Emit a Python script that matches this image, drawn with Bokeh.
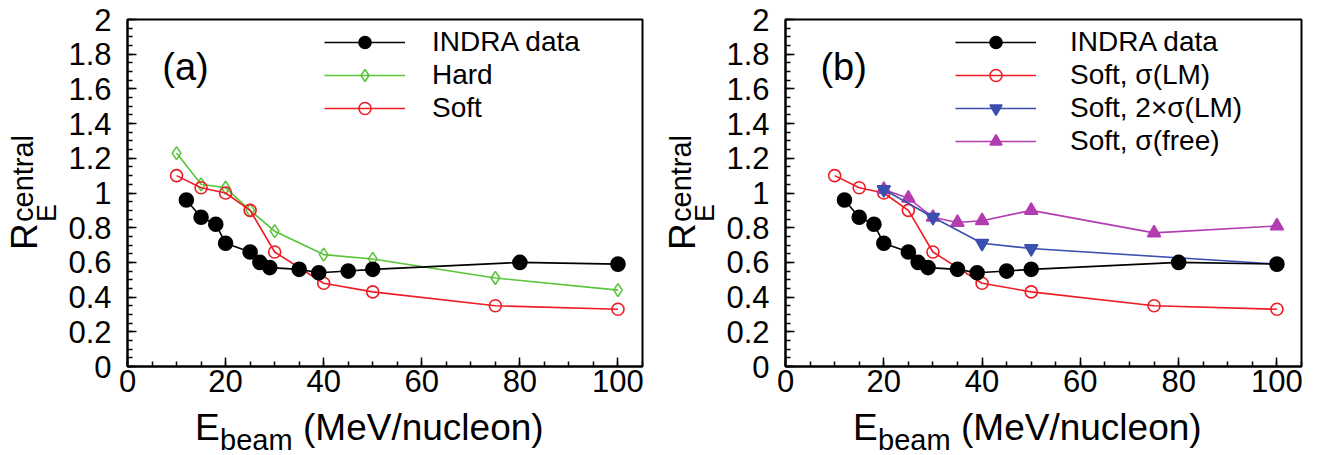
from bokeh.plotting import figure
from bokeh.layouts import row, column
from bokeh.models import Range1d, FixedTicker, Label, Legend, LegendItem, Div
from bokeh.embed import file_html
from bokeh.resources import INLINE

# ---------------- data ----------------
indra_e = [12, 15, 18, 20, 25, 27, 29, 35, 39, 45, 50, 80, 100]
indra_r = [0.96, 0.86, 0.82, 0.71, 0.66, 0.60, 0.57, 0.56, 0.54, 0.55, 0.56, 0.60, 0.59]

hard_e = [10, 15, 20, 25, 30, 40, 50, 75, 100]
hard_r = [1.23, 1.05, 1.03, 0.90, 0.78, 0.645, 0.62, 0.51, 0.44]

soft_e = [10, 15, 20, 25, 30, 40, 50, 75, 100]
soft_r = [1.10, 1.03, 1.00, 0.90, 0.66, 0.48, 0.43, 0.35, 0.33]

soft2_e = [20, 30, 40, 50, 100]
soft2_r = [1.02, 0.86, 0.71, 0.68, 0.59]

free_e = [20, 25, 30, 35, 40, 50, 75, 100]
free_r = [1.02, 0.97, 0.86, 0.83, 0.84, 0.90, 0.77, 0.81]

x_ticks = [0, 20, 40, 60, 80, 100]
x_tick_labels = ["0", "20", "40", "60", "80", "100"]
y_ticks = [0, 0.2, 0.4, 0.6, 0.8, 1, 1.2, 1.4, 1.6, 1.8, 2]
y_tick_labels = ["0", "0.2", "0.4", "0.6", "0.8", "1", "1.2", "1.4", "1.6", "1.8", "2"]
x_minor = [5 * i for i in range(22)]
y_minor = [0.05 * i for i in range(41)]

FONT = "Liberation Sans"
BLACK = "#000000"
GREEN = "#5ac43a"
RED = "#ee1c25"
BLUE = "#3b4fae"
MAGENTA = "#b23cb0"

FIG_H = 406
YDIV_W = 60


def make_panel(width, bl, br, panel_text):
    p = figure(width=width, height=FIG_H, x_range=Range1d(0, 105), y_range=Range1d(0, 2),
               output_backend="svg", toolbar_location=None,
               min_border_left=bl, min_border_right=br, min_border_top=19, min_border_bottom=40)
    p.grid.visible = False
    p.outline_line_color = "black"
    p.outline_line_width = 2
    p.background_fill_color = "white"
    p.border_fill_color = "white"
    for ax in (p.xaxis[0], p.yaxis[0]):
        ax.axis_line_width = 2
        ax.axis_line_color = "black"
        ax.major_tick_in = 9
        ax.major_tick_out = 0
        ax.minor_tick_in = 5
        ax.minor_tick_out = 0
        ax.major_tick_line_width = 1.5
        ax.minor_tick_line_width = 1.5
        ax.major_tick_line_color = "black"
        ax.minor_tick_line_color = "black"
        ax.major_label_text_font = FONT
        ax.major_label_text_font_size = "31px"
        ax.major_label_text_color = "black"
    p.xaxis.ticker = FixedTicker(ticks=x_ticks, minor_ticks=x_minor)
    p.yaxis.ticker = FixedTicker(ticks=y_ticks, minor_ticks=y_minor)
    p.xaxis.major_label_overrides = dict(zip(x_ticks, x_tick_labels))
    p.yaxis.major_label_overrides = dict(zip(y_ticks, y_tick_labels))
    p.xaxis.major_label_standoff = 3
    p.yaxis.major_label_standoff = 16
    p.add_layout(Label(x=7.1, y=1.726, text=panel_text, text_font=FONT, text_font_size="38px",
                       text_color="black", text_baseline="alphabetic", text_align="left"))
    return p


def span(txt, size, left, top, rotate=False):
    tr = "transform:rotate(-90deg);transform-origin:0 0;" if rotate else ""
    return (f'<span style="position:absolute;left:{left}px;top:{top}px;font-family:\'{FONT}\';'
            f'font-size:{size}px;line-height:1;white-space:nowrap;color:#000;{tr}">{txt}</span>')


def y_label_div():
    html = ('<div style="position:relative;width:%dpx;height:%dpx;">' % (YDIV_W, FIG_H)
            + span("R", 37, 6, 250, True)
            + span("E", 27, 34.1, 222, True)
            + span("central", 29, 9, 222, True)
            + '</div>')
    return Div(text=html, width=YDIV_W, height=FIG_H, margin=0)


def x_label_div(width):
    html = ('<div style="position:relative;width:%dpx;height:46px;">' % width
            + span("E", 37, 195, 2.7)
            + span("beam", 29, 220, 19.5)
            + span("(MeV/nucleon)", 37, 303, 2.7)
            + '</div>')
    return Div(text=html, width=width, height=46, margin=0)


def series(p, xs, ys, color, marker, fill, size=12):
    ln = p.line(xs, ys, line_color=color, line_width=1.6)
    sc = p.scatter(xs, ys, marker=marker, size=size, line_color=color, line_width=1.6,
                   fill_color=(color if fill else None))
    return [ln, sc]


def add_legend(p, items, loc, standoff):
    leg = Legend(items=[LegendItem(label=t, renderers=r) for t, r in items], location=loc,
                 glyph_width=81, glyph_height=30, label_height=30, spacing=1, padding=0, margin=0,
                 border_line_color=None, background_fill_alpha=0, label_standoff=standoff,
                 label_text_font=FONT, label_text_font_size="28px", label_text_color="black")
    p.add_layout(leg)


# ---------------- panel (a) ----------------
pa = make_panel(598, 67, 16, "(a)")
ra_hard = series(pa, hard_e, hard_r, GREEN, "diamond", False, 13)
ra_soft = series(pa, soft_e, soft_r, RED, "circle", False, 12)
ra_indra = series(pa, indra_e, indra_r, BLACK, "circle", True, 14)
add_legend(pa, [("INDRA data", ra_indra), ("Hard", ra_hard), ("Soft", ra_soft)], (197, 242), 27)

# ---------------- panel (b) ----------------
pb = make_panel(593, 67, 10, "(b)")
rb_soft = series(pb, soft_e, soft_r, RED, "circle", False, 12)
rb_free = series(pb, free_e, free_r, MAGENTA, "triangle", True, 13)
rb_soft2 = series(pb, soft2_e, soft2_r, BLUE, "inverted_triangle", True, 13)
rb_indra = series(pb, indra_e, indra_r, BLACK, "circle", True, 14)
add_legend(pb, [("INDRA data", rb_indra), ("Soft, σ(LM)", rb_soft),
                ("Soft, 2×σ(LM)", rb_soft2), ("Soft, σ(free)", rb_free)], (170, 209), 34)

col_a = column(row(y_label_div(), pa, spacing=0), x_label_div(YDIV_W + 598), spacing=0)
col_b = column(row(y_label_div(), pb, spacing=0), x_label_div(YDIV_W + 593), spacing=0)
layout = row(col_a, col_b, spacing=0)
open("out.html", "w").write(file_html(layout, INLINE))
